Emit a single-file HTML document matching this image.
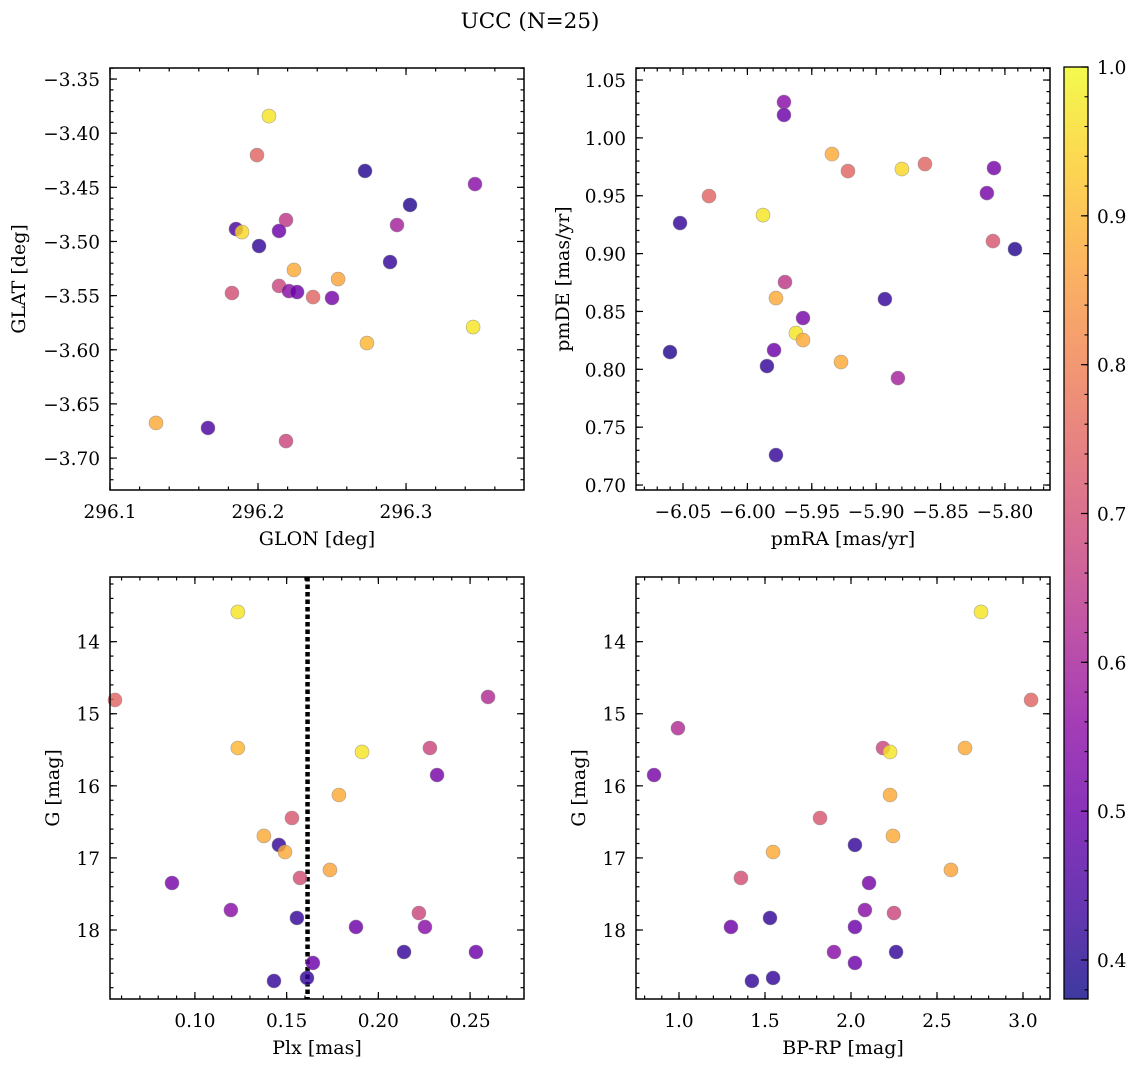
<!DOCTYPE html>
<html><head><meta charset="utf-8"><style>
html,body{margin:0;padding:0;background:#fff;}
svg{display:block;font-family:"DejaVu Serif","Liberation Serif",serif;}
</style></head><body>
<svg id="fig" width="1136" height="1067" viewBox="0 0 1136 1067" xmlns="http://www.w3.org/2000/svg">
<text x="530" y="28" font-size="21.5" text-anchor="middle">UCC (N=25)</text>
</svg>
<script>
// ---- data ----
const glon = [296.2074,296.1993,296.2723,296.3466,296.3027,296.2189,296.1851,296.2142,296.1892,296.2939,296.2007,296.2892,296.2243,296.2541,296.2142,296.2209,296.2264,296.1824,296.2372,296.2500,296.3453,296.2736,296.1311,296.1662,296.2189];
const glat = [-3.3842,-3.4202,-3.4349,-3.4470,-3.4663,-3.4802,-3.4885,-3.4903,-3.4913,-3.4848,-3.5042,-3.5190,-3.5263,-3.5347,-3.5411,-3.5458,-3.5467,-3.5476,-3.5513,-3.5522,-3.5790,-3.5938,-3.6676,-3.6722,-3.6843];
const probA = [0.97,0.75,0.40,0.55,0.40,0.65,0.45,0.50,0.95,0.60,0.42,0.42,0.88,0.87,0.68,0.55,0.50,0.70,0.75,0.52,0.97,0.90,0.88,0.45,0.68];

const pmra = [-5.9716,-5.9716,-5.9343,-5.8621,-5.9219,-5.8800,-5.8085,-6.0298,-5.8140,-5.9879,-6.0523,-5.7922,-5.8093,-5.8932,-5.9708,-5.9778,-5.9568,-5.9623,-5.9568,-5.9793,-5.9273,-5.9848,-6.0601,-5.8831,-5.9778];
const pmde = [1.0310,1.0198,0.9860,0.9774,0.9713,0.9731,0.9739,0.9497,0.9523,0.9333,0.9264,0.9039,0.9108,0.8607,0.8754,0.8616,0.8443,0.8313,0.8253,0.8166,0.8063,0.8028,0.8149,0.7924,0.7259];
const probB = [0.55,0.50,0.88,0.75,0.75,0.95,0.52,0.75,0.52,0.97,0.42,0.40,0.72,0.42,0.65,0.88,0.52,0.97,0.88,0.50,0.88,0.42,0.40,0.60,0.42];

const plx = [0.1234,0.0564,0.2598,0.1234,0.2281,0.1911,0.2320,0.1785,0.1529,0.1376,0.1458,0.1491,0.1573,0.1736,0.0875,0.1196,0.2221,0.1556,0.1878,0.2254,0.2140,0.2532,0.1643,0.1431,0.1611];
const gmagC = [13.588,14.809,14.767,15.475,15.475,15.530,15.850,16.127,16.446,16.695,16.820,16.918,17.278,17.167,17.348,17.723,17.764,17.833,17.958,17.958,18.305,18.305,18.457,18.707,18.665];
const probC = [0.97,0.75,0.62,0.90,0.68,0.97,0.52,0.88,0.72,0.88,0.42,0.88,0.70,0.87,0.52,0.55,0.68,0.42,0.50,0.55,0.42,0.50,0.50,0.42,0.42];
const plxMean = [0.1614];

const bprp = [2.756,3.047,0.994,2.186,2.227,2.663,2.227,0.855,1.820,2.244,2.023,1.547,1.360,2.581,2.105,2.081,2.250,1.529,1.302,2.023,1.901,2.262,2.023,1.424,1.547];
const gmagD = [13.588,14.809,15.200,15.475,15.530,15.475,16.127,15.850,16.446,16.695,16.820,16.918,17.278,17.167,17.348,17.723,17.764,17.833,17.958,17.958,18.305,18.305,18.457,18.707,18.665];
const probD = [0.97,0.75,0.62,0.68,0.97,0.88,0.88,0.52,0.72,0.88,0.42,0.88,0.70,0.87,0.52,0.55,0.68,0.42,0.50,0.50,0.55,0.42,0.50,0.42,0.42];

const ticksA_x = [296.1,296.2,296.3];
const ticksA_y = [-3.35,-3.40,-3.45,-3.50,-3.55,-3.60,-3.65,-3.70];
const ticksB_x = [-6.05,-6.00,-5.95,-5.90,-5.85,-5.80];
const ticksB_y = [0.70,0.75,0.80,0.85,0.90,0.95,1.00,1.05];
const ticksC_x = [0.10,0.15,0.20,0.25];
const ticksG = [14,15,16,17,18];
const ticksD_x = [1.0,1.5,2.0,2.5,3.0];
const ticksCbar = [0.4,0.5,0.6,0.7,0.8,0.9,1.0];
const cmin = 0.3738, cmax = 1.0;

// ---- helpers ----
const NS = "http://www.w3.org/2000/svg";
const svg = document.getElementById('fig');
const FS = 18.5, LFS = 19;
function mk(tag, attrs, parent){ const e=document.createElementNS(NS,tag); for(const k in attrs) e.setAttribute(k,attrs[k]); (parent||svg).appendChild(e); return e; }
const stops=[[0,[13,8,135]],[0.1,[65,4,157]],[0.2,[106,0,168]],[0.3,[143,13,164]],[0.4,[177,42,144]],[0.5,[204,71,120]],[0.6,[225,100,98]],[0.7,[242,132,75]],[0.8,[252,166,54]],[0.9,[252,206,37]],[1,[240,249,33]]];
function plasma(t){ t=Math.max(0,Math.min(1,t)); for(let i=1;i<stops.length;i++){ if(t<=stops[i][0]){ const a=stops[i-1],b=stops[i]; const f=(t-a[0])/(b[0]-a[0]); return 'rgb('+a[1].map((v,j)=>Math.round(v+(b[1][j]-v)*f)).join(',')+')'; } } return 'rgb(240,249,33)'; }
function cnorm(c){ return (c-cmin)/(cmax-cmin); }
function fmt(v,d){ return (v<0?'\u2212':'')+Math.abs(v).toFixed(d); }

function panel(o){
  const g=mk('g',{});
  
  
  const sx=v=>o.x0+(v-o.xd[0])/(o.xd[1]-o.xd[0])*(o.x1-o.x0);
  const sy=v=>o.y1-(v-o.yd[0])/(o.yd[1]-o.yd[0])*(o.y1-o.y0);
  const tk=mk('g',{stroke:'#000','stroke-width':1.2},g);
  
  
  const xmin=Math.min(...o.xd), xmax=Math.max(...o.xd), ymin=Math.min(...o.yd), ymax=Math.max(...o.yd);
  for(let v=Math.ceil(xmin/o.xminor-1e-6)*o.xminor; v<=xmax+1e-9; v+=o.xminor){ const X=sx(v); mk('line',{x1:X,x2:X,y1:o.y1,y2:o.y1-3.5},tk); mk('line',{x1:X,x2:X,y1:o.y0,y2:o.y0+3.5},tk); }
  for(let v=Math.ceil(ymin/o.yminor-1e-6)*o.yminor; v<=ymax+1e-9; v+=o.yminor){ const Y=sy(v); mk('line',{x1:o.x0,x2:o.x0+3.5,y1:Y,y2:Y},tk); mk('line',{x1:o.x1,x2:o.x1-3.5,y1:Y,y2:Y},tk); }
  o.xt.forEach(v=>{ const X=sx(v); mk('line',{x1:X,x2:X,y1:o.y1,y2:o.y1-7},tk); mk('line',{x1:X,x2:X,y1:o.y0,y2:o.y0+7},tk);
    const t=mk('text',{x:X,y:o.y1+28,'font-size':FS,'text-anchor':'middle'},g); t.textContent=fmt(v,o.xdig);
      });
  o.yt.forEach(v=>{ const Y=sy(v); mk('line',{x1:o.x0,x2:o.x0+7,y1:Y,y2:Y},tk); mk('line',{x1:o.x1,x2:o.x1-7,y1:Y,y2:Y},tk);
    const t=mk('text',{x:o.x0-10,y:Y+7,'font-size':FS,'text-anchor':'end'},g); t.textContent=fmt(v,o.ydig);
      });
  if(o.vline){ o.vline.forEach(v=>{ const l=mk('line',{x1:sx(v),x2:sx(v),y1:o.y0,y2:o.y1,stroke:'#000','stroke-width':4.5,'stroke-dasharray':'4.5 3'},g);
      }); }
  o.xs.forEach((xv,i)=>{ const c=mk('circle',{cx:sx(xv),cy:sy(o.ys[i]),r:7,fill:plasma(cnorm(o.cs[i])),'fill-opacity':0.82,stroke:'#888','stroke-width':0.6,'stroke-opacity':0.7},g);
      });
  const fr=mk('rect',{x:o.x0,y:o.y0,width:o.x1-o.x0,height:o.y1-o.y0,fill:'none',stroke:'#000','stroke-width':1.5},g);
   
  const xl=mk('text',{x:(o.x0+o.x1)/2,y:o.y1+55,'font-size':LFS,'text-anchor':'middle'},g); xl.textContent=o.xlab;
   
  const yl=mk('text',{x:0,y:0,'font-size':LFS,'text-anchor':'middle',transform:'translate('+o.ylx+','+(o.y0+o.y1)/2+') rotate(-90)'},g); yl.textContent=o.ylab;
   
}

panel({name:'glon-glat-panel',x0:110,x1:524,y0:68,y1:490,xd:[296.1,296.3797],yd:[-3.7295,-3.3398],xt:ticksA_x,yt:ticksA_y,xminor:0.02,yminor:0.01,xdig:1,ydig:2,xs:glon,ys:glat,cs:probA,xlab:'GLON [deg]',ylab:'GLAT [deg]',ylx:25});
panel({name:'pm-panel',x0:636,x1:1050,y0:68,y1:490,xd:[-6.0865,-5.765],yd:[0.6957,1.0604],xt:ticksB_x,yt:ticksB_y,xminor:0.01,yminor:0.01,xdig:2,ydig:2,xs:pmra,ys:pmde,cs:probB,xlab:'pmRA [mas/yr]',ylab:'pmDE [mas/yr]',ylx:569});
panel({name:'plx-g-panel',x0:110,x1:524,y0:577,y1:999,xd:[0.0537,0.2794],yd:[18.957,13.103],xt:ticksC_x,yt:ticksG,xminor:0.01,yminor:0.2,xdig:2,ydig:0,xs:plx,ys:gmagC,cs:probC,xlab:'Plx [mas]',ylab:'G [mag]',ylx:59,vline:plxMean});
panel({name:'cmd-panel',x0:636,x1:1050,y0:577,y1:999,xd:[0.75,3.157],yd:[18.957,13.103],xt:ticksD_x,yt:ticksG,xminor:0.1,yminor:0.2,xdig:1,ydig:0,xs:bprp,ys:gmagD,cs:probD,xlab:'BP-RP [mag]',ylab:'G [mag]',ylx:585});

// ---- colorbar ----
const cb=mk('g',{});


const defs=mk('defs',{},cb);
const lg=mk('linearGradient',{id:'cbg',x1:0,y1:1,x2:0,y2:0},defs);
for(let i=0;i<=20;i++){ mk('stop',{offset:i/20,'stop-color':plasma(i/20)},lg); }
const cbx0=1064,cbx1=1088,cby0=67,cby1=999;
mk('rect',{x:cbx0,y:cby0,width:cbx1-cbx0,height:cby1-cby0,fill:'url(#cbg)','fill-opacity':0.8},cb);
const cys=v=>cby1-(v-cmin)/(cmax-cmin)*(cby1-cby0);
for(let v=0.38; v<=1.0001; v+=0.02){ const Y=cys(v); mk('line',{x1:cbx1,x2:cbx1-3.5,y1:Y,y2:Y,stroke:'#000','stroke-width':1.1},cb); }
ticksCbar.forEach(v=>{ const Y=cys(v); mk('line',{x1:cbx1,x2:cbx1-7,y1:Y,y2:Y,stroke:'#000','stroke-width':1.2},cb);
  const t=mk('text',{x:cbx1+9,y:Y+7,'font-size':FS},cb); t.textContent=v.toFixed(1);
    });
mk('rect',{x:cbx0,y:cby0,width:cbx1-cbx0,height:cby1-cby0,fill:'none',stroke:'#000','stroke-width':1.3},cb);
</script>
</body></html>
